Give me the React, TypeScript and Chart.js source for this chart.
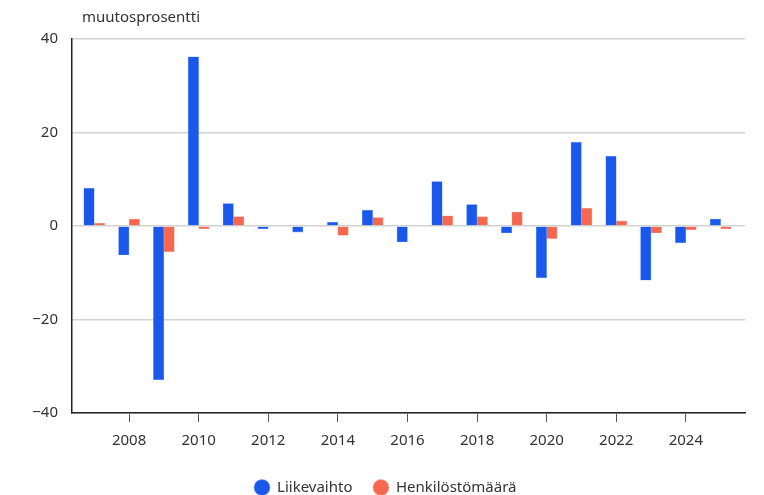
import React, { useEffect, useRef } from "react";
import { Chart, registerables } from "chart.js";

Chart.register(...registerables);

const years = [2007, 2008, 2009, 2010, 2011, 2012, 2013, 2014, 2015, 2016, 2017, 2018, 2019, 2020, 2021, 2022, 2023, 2024, 2025];
const liikevaihto = [8.1, -6.2, -32.9, 36.2, 4.8, -0.6, -1.3, 0.8, 3.4, -3.4, 9.5, 4.6, -1.5, -11.1, 17.9, 14.9, -11.6, -3.6, 1.5];
const henkilosto = [0.6, 1.5, -5.5, -0.6, 2.0, 0, 0, -2.0, 1.8, 0, 2.2, 2.0, 3.0, -2.7, 3.8, 1.1, -1.5, -0.8, -0.6];
const xTicks = [2008, 2010, 2012, 2014, 2016, 2018, 2020, 2022, 2024];
const yTicks = [-40, -20, 0, 20, 40];
const seriesNames = ["Liikevaihto", "Henkilöstömäärä"];
const unitLabel = "muutosprosentti";

const FONT = "'Noto Sans', sans-serif";
const FS = 15;

export default function App() {
  const ref = useRef<HTMLCanvasElement | null>(null);

  useEffect(() => {
    document.body.style.margin = "0";
    const canvas = ref.current;
    if (!canvas) return;

    const titlePlugin = {
      id: "unitTitle",
      afterDraw(chart: any) {
        const ctx = chart.ctx;
        ctx.save();
        ctx.font = `${FS}px ${FONT}`;
        ctx.fillStyle = "#333";
        ctx.textAlign = "left";
        ctx.textBaseline = "middle";
        ctx.fillText(unitLabel, 82, 17.5);
        ctx.restore();
      },
    };

    const chart = new Chart(canvas, {
      type: "bar",
      data: {
        datasets: [
          {
            label: seriesNames[0],
            data: years.map((y, i) => ({ x: y, y: liikevaihto[i] })),
            backgroundColor: "#1a57eb",
            borderColor: "rgba(120,160,250,0.9)",
            borderWidth: 0.6,
            barThickness: 10.5,
          },
          {
            label: seriesNames[1],
            data: years.map((y, i) => ({ x: y, y: henkilosto[i] })),
            backgroundColor: "#f5674f",
            borderColor: "rgba(250,170,155,0.9)",
            borderWidth: 0.6,
            barThickness: 10.5,
          },
        ],
      },
      options: {
        animation: false,
        responsive: false,
        maintainAspectRatio: false,
        layout: { padding: { top: 39, right: 19, left: 26, bottom: -10 } },
        plugins: {
          legend: {
            position: "bottom",
            labels: {
              usePointStyle: true,
              pointStyle: "circle",
              boxWidth: 16,
              boxHeight: 11.3,
              padding: 21,
              color: "#333",
              font: { family: FONT, size: FS },
            },
          },
          tooltip: { enabled: false },
        },
        scales: {
          x: {
            type: "linear",
            min: 2006.36,
            max: 2025.7,
            offset: false,
            afterBuildTicks: (scale: any) => {
              scale.ticks = xTicks.map((v) => ({ value: v }));
            },
            afterFit: (scale: any) => {
              scale.height = 46;
            },
            ticks: {
              color: "#333",
              font: { family: FONT, size: FS },
              padding: 10,
              maxRotation: 0,
              callback: (v: any) => String(v),
            },
            grid: {
              offset: false,
              drawOnChartArea: false,
              drawTicks: true,
              tickLength: 9,
              color: "#555",
              lineWidth: 1,
            },
            border: { color: "#222", width: 1.5 },
          },
          y: {
            min: -40,
            max: 40,
            afterBuildTicks: (scale: any) => {
              scale.ticks = yTicks.map((v) => ({ value: v }));
            },
            afterFit: (scale: any) => {
              scale.width = 46;
            },
            ticks: {
              color: "#333",
              font: { family: FONT, size: FS },
              padding: 14,
              callback: (v: any) => String(v).replace("-", "\u2212"),
            },
            grid: {
              drawTicks: false,
              color: "#d2d2d2",
              lineWidth: 1.5,
            },
            border: { color: "#222", width: 1.5 },
          },
        },
      },
      plugins: [titlePlugin],
    });

    return () => chart.destroy();
  }, []);

  return (
    <div style={{ width: 764, height: 495 }}>
      <canvas ref={ref} width={764} height={495} style={{ display: "block" }} />
    </div>
  );
}
